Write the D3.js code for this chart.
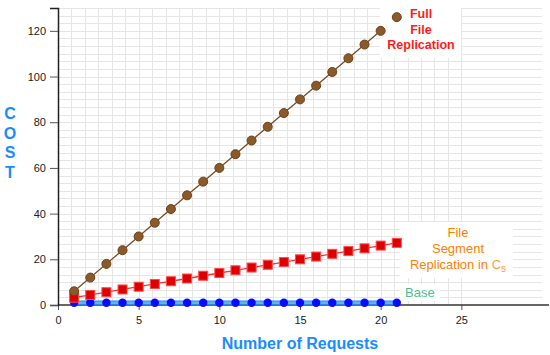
<!DOCTYPE html>
<html>
<head>
<meta charset="utf-8">
<script src="https://cdn.jsdelivr.net/npm/d3@7"></script>
<style>
	body { margin: 0; background: #fff; }
	svg { display: block; font-family: "Liberation Sans", Arial, sans-serif; }
</style>
</head>
<body>
<div id="chart"></div>
<script>
// number of requests on the x axis
var requests = [1, 2, 3, 4, 5, 6, 7, 8, 9, 10, 11, 12, 13, 14, 15, 16, 17, 18, 19, 20, 21];

// cost per series
var fullFile = [6, 12, 18, 24, 30, 36, 42, 48, 54, 60, 66, 72, 78, 84, 90, 96, 102, 108, 114, 120, 126];
var segment = [3.2, 4.4, 5.6, 6.8, 8, 9.2, 10.4, 11.6, 12.8, 14, 15.2, 16.4, 17.6, 18.8, 20, 21.2, 22.4, 23.6, 24.8, 26, 27.2];
var base = [1, 1, 1, 1, 1, 1, 1, 1, 1, 1, 1, 1, 1, 1, 1, 1, 1, 1, 1, 1, 1];

var xTicks = [0, 5, 10, 15, 20, 25];
var yTicks = [0, 20, 40, 60, 80, 100, 120];

var width = 550;
var height = 355;

var x = d3.scaleLinear().domain([0, 30]).range([58, 542]);
var y = d3.scaleLinear().domain([0, 130]).range([305, 8]);

var svg = d3.select("#chart").append("svg")
	.attr("width", width)
	.attr("height", height);

// grid (minor lines, 6 per major step)
var grid = svg.append("g").attr("stroke", "#e6e6e6").attr("stroke-width", 1);
grid.selectAll("line.h")
	.data(d3.range(1, 40).map(function(i) { return i * 20 / 6; }))
	.enter().append("line")
	.attr("x1", x(0)).attr("x2", x(30))
	.attr("y1", function(d) { return Math.round(y(d)) + 0.5; })
	.attr("y2", function(d) { return Math.round(y(d)) + 0.5; });
grid.selectAll("line.v")
	.data(d3.range(1, 31).map(function(i) { return i * 5 / 6; }))
	.enter().append("line")
	.attr("y1", y(0)).attr("y2", y(130))
	.attr("x1", function(d) { return Math.round(x(d)) + 0.5; })
	.attr("x2", function(d) { return Math.round(x(d)) + 0.5; });

// axes
var xAxis = svg.append("g")
	.attr("transform", "translate(0," + y(0) + ")")
	.call(d3.axisBottom(x).tickValues(xTicks).tickSize(5).tickPadding(6));
xAxis.select(".domain").remove();
svg.append("line")
	.attr("x1", x(0)).attr("x2", 549)
	.attr("y1", y(0)).attr("y2", y(0))
	.attr("stroke", "#333").attr("stroke-width", 1.5);

var yAxis = svg.append("g")
	.attr("transform", "translate(" + x(0) + ",0)")
	.call(d3.axisLeft(y).tickValues(yTicks).tickSize(8).tickPadding(4));
yAxis.select(".domain").attr("stroke", "#222").attr("stroke-width", 1.5);

svg.selectAll(".tick text").attr("font-size", 11).attr("fill", "#222")
	.attr("font-family", "Liberation Sans, Arial, sans-serif");
svg.selectAll(".tick line").attr("stroke", "#555");

// lines
var line = d3.line()
	.x(function(d, i) { return x(requests[i]); })
	.y(function(d) { return y(d); });

svg.append("path").datum(base)
	.attr("d", line).attr("fill", "none")
	.attr("stroke", "#2b86e8").attr("stroke-width", 4.5);
svg.append("path").datum(base)
	.attr("d", line).attr("fill", "none")
	.attr("stroke", "#5fb4ff").attr("stroke-width", 2.5);
svg.append("path").datum(segment)
	.attr("d", line).attr("fill", "none")
	.attr("stroke", "#ff3030").attr("stroke-width", 1.3);
svg.append("path").datum(fullFile)
	.attr("d", line).attr("fill", "none")
	.attr("stroke", "#7a4a22").attr("stroke-width", 1.3);

// label boxes
var boxes = [
	{ x: 380, y: 2, w: 81, h: 56 },
	{ x: 400, y: 222, w: 113, h: 56 },
	{ x: 400, y: 284, w: 40, h: 17 }
];
svg.selectAll("rect.box")
	.data(boxes)
	.enter().append("rect")
	.attr("x", function(d) { return d.x; })
	.attr("y", function(d) { return d.y; })
	.attr("width", function(d) { return d.w; })
	.attr("height", function(d) { return d.h; })
	.attr("fill", "#fff");

// markers
svg.selectAll("circle.base")
	.data(base)
	.enter().append("circle")
	.attr("cx", function(d, i) { return x(requests[i]); })
	.attr("cy", function(d) { return y(d); })
	.attr("r", 4.2)
	.attr("fill", "#0a0aff");

svg.selectAll("rect.seg")
	.data(segment)
	.enter().append("rect")
	.attr("x", function(d, i) { return x(requests[i]) - 4.5; })
	.attr("y", function(d) { return y(d) - 4.5; })
	.attr("width", 9).attr("height", 9)
	.attr("fill", "#dd0000")
	.attr("stroke", "#ff4a4a").attr("stroke-width", 1);

svg.selectAll("circle.full")
	.data(fullFile)
	.enter().append("circle")
	.attr("cx", function(d, i) { return x(requests[i]); })
	.attr("cy", function(d) { return y(d); })
	.attr("r", 4.5)
	.attr("fill", "#8b5a2b")
	.attr("stroke", "#6a4019").attr("stroke-width", 1);

// series labels
var fullLabel = svg.append("text")
	.attr("text-anchor", "middle")
	.attr("font-size", 12.5).attr("font-weight", "bold")
	.attr("fill", "#ff1a1a");
["Full", "File", "Replication"].forEach(function(t, i) {
	fullLabel.append("tspan").attr("x", 421).attr("y", 18 + i * 15.5).text(t);
});

var segLabel = svg.append("text")
	.attr("text-anchor", "middle")
	.attr("font-size", 13)
	.attr("fill", "#ff8000");
segLabel.append("tspan").attr("x", 458).attr("y", 237).text("File");
segLabel.append("tspan").attr("x", 458).attr("y", 253).text("Segment");
var l3 = segLabel.append("tspan").attr("x", 458).attr("y", 269);
l3.append("tspan").text("Replication in ");
l3.append("tspan").attr("fill", "#ffa040").text("C");
l3.append("tspan").attr("font-size", 9).attr("fill", "#ffa040").attr("dy", 3).text("5");

svg.append("text")
	.attr("x", 405).attr("y", 297)
	.attr("font-size", 13)
	.attr("fill", "#4cbf8f")
	.text("Base");

// axis titles
svg.append("text")
	.attr("x", 300).attr("y", 349)
	.attr("text-anchor", "middle")
	.attr("font-size", 16).attr("font-weight", "bold")
	.attr("fill", "#1a8cff")
	.text("Number of Requests");

svg.selectAll("text.cost")
	.data(["C", "O", "S", "T"])
	.enter().append("text")
	.attr("x", 10).attr("y", function(d, i) { return 119 + i * 19.5; })
	.attr("text-anchor", "middle")
	.attr("font-size", 16).attr("font-weight", "bold")
	.attr("fill", "#1a8cff")
	.text(function(d) { return d; });
</script>
</body>
</html>
